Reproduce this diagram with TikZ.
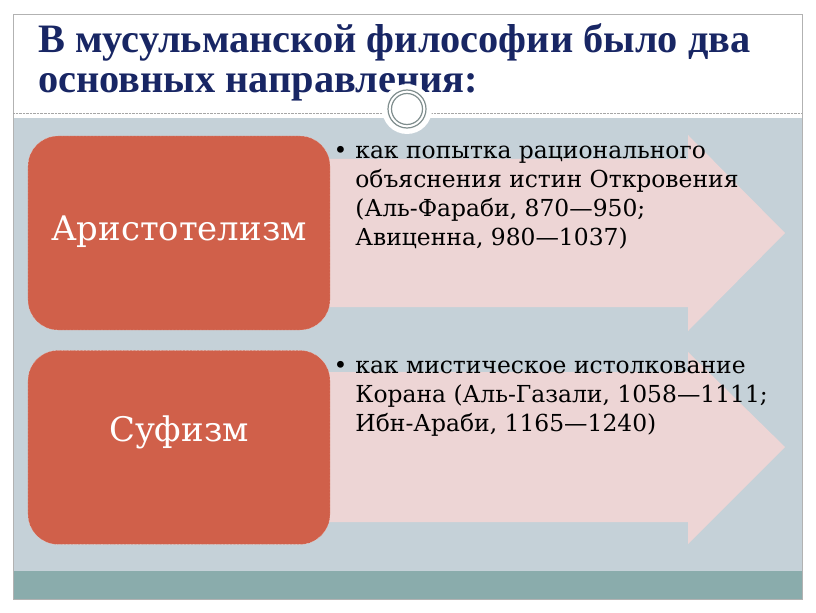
\documentclass[tikz,border=0pt]{standalone}
\usepackage{fontspec}
\setmainfont{DejaVu Serif}
\newfontfamily\headfont{Liberation Serif}
\usetikzlibrary{positioning}

\definecolor{slidebg}{RGB}{197,209,216}
\definecolor{footbar}{RGB}{138,172,172}
\definecolor{boxred}{RGB}{208,96,74}
\definecolor{arrowpink}{RGB}{237,213,213}
\definecolor{titleblue}{RGB}{24,38,100}
\definecolor{ringgray}{RGB}{128,142,142}

\tikzset{
	topic/.style={rectangle, rounded corners=30bp, fill=boxred, draw=white!80!boxred,
		densely dotted, minimum width=302bp, minimum height=194bp, text=white,
		font=\fontsize{34}{40}\selectfont},
	points/.style={anchor=north west, align=left, inner sep=0pt,
		font=\fontsize{23.5}{29}\selectfont},
	headline/.style={anchor=north west, align=left, inner sep=0pt, text=titleblue,
		font=\headfont\bfseries\fontsize{40.5}{41}\selectfont},
}

\begin{document}
\begin{tikzpicture}[x=1bp,y=-1bp]
		\useasboundingbox (0,0) rectangle (816,613);
		
		% slide
		\fill[white] (0,0) rectangle (816,613);
		\fill[slidebg] (13,118) rectangle (802,571);
		\fill[footbar] (13,571) rectangle (802,599);
		\draw[gray!60, line width=0.8bp] (13,14) rectangle (802,599);
		\draw[gray!70, densely dotted] (13,113) -- (383,113) (431,113) -- (802,113);
		
		\node[headline] (title) at (38,23) {В мусульманской философии было два\\основных направления:};
		
		\node[circle, fill=white, minimum size=50bp, inner sep=0pt] (knot) at (407,109) {};
		\draw[ringgray, line width=1.2bp] (knot.center) circle (19bp) circle (15.5bp);
		
		% arrows
		\fill[arrowpink] (320,159) -- (688,159) -- (688,135) -- (785,233) -- (688,331) -- (688,307) -- (320,307) -- cycle;
		\fill[arrowpink] (320,372) -- (688,372) -- (688,352) -- (785,447) -- (688,544) -- (688,522) -- (320,522) -- cycle;
		
		\node[topic, text depth=9bp] (aristo) at (179,233) {Аристотелизм};
		\node[topic, text depth=37bp, below=20bp of aristo] (sufi) {Суфизм};
		
		\node[points] (aristotxt) at ([xshift=25bp, yshift=-10bp]aristo.north east)
			{\llap{•\hspace{8bp}}как попытка рационального\\объяснения истин Откровения\\(Аль-Фараби, 870—950;\\Авиценна, 980—1037)};
		\node[points] (sufitxt) at ([xshift=25bp, yshift=-11bp]sufi.north east)
			{\llap{•\hspace{8bp}}как мистическое истолкование\\Корана (Аль-Газали, 1058—1111;\\Ибн-Араби, 1165—1240)};
		
\end{tikzpicture}
\end{document}
